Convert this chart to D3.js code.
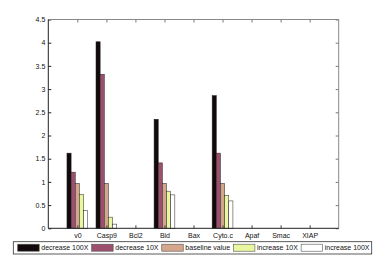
<!DOCTYPE html>
<html><head><meta charset="utf-8">
<script src="https://cdn.jsdelivr.net/npm/d3@7"></script>
<style>body{margin:0;background:#fff}svg{display:block}text{font-family:"Liberation Sans",Arial,Helvetica,sans-serif}</style>
</head><body>
<svg id="c" width="374" height="257"></svg>
<script>
const categories = ["v0","Casp9","Bcl2","Bid","Bax","Cyto.c","Apaf","Smac","XIAP"];
const seriesNames = ["decrease 100X","decrease 10X","baseline value","increase 10X","increase 100X"];
const dec100 = [1.62, 4.02, 0, 2.35, 0, 2.86, 0, 0, 0];
const dec10  = [1.21, 3.32, 0, 1.41, 0, 1.62, 0, 0, 0];
const base   = [0.97, 0.97, 0, 0.97, 0, 0.97, 0, 0, 0];
const inc10  = [0.73, 0.24, 0, 0.80, 0, 0.71, 0, 0, 0];
const inc100 = [0.38, 0.09, 0, 0.72, 0, 0.59, 0, 0, 0];
const yTicks = [0,0.5,1,1.5,2,2.5,3,3.5,4,4.5];
const colors = ["#120a0a","#9c4f6e","#d4a68c","#eaf7a0","#ffffff"];
const series = [dec100, dec10, base, inc10, inc100];

const svg = d3.select("#c");
const L = 48.3, R = 338.7, T = 19.5, B = 228.3;
const x = d3.scaleLinear().domain([0, categories.length + 1]).range([L, R]);
const y = d3.scaleLinear().domain([0, 4.5]).range([B, T]);
const slot = 0.143;

// bars
series.forEach((s, i) => {
  svg.append("g").selectAll("rect").data(s).join("rect")
    .attr("x", (d, j) => x(j + 1 + (i - 2) * slot - slot / 2))
    .attr("width", x(slot) - x(0))
    .attr("y", d => y(d))
    .attr("height", d => y(0) - y(d))
    .attr("fill", colors[i])
    .attr("stroke", "#222")
    .attr("stroke-width", 0.5)
    .style("display", d => d > 0 ? null : "none");
});

const tickIdx = categories.map((c, i) => i + 1);
const fs = "7px";
// axes
const gl = svg.append("g").attr("transform", `translate(${L},0)`)
  .call(d3.axisLeft(y).tickValues(yTicks).tickFormat(d3.format("")).tickSize(-3).tickPadding(3));
const gr = svg.append("g").attr("transform", `translate(${R},0)`)
  .call(d3.axisRight(y).tickValues(yTicks).tickFormat("").tickSize(-3));
const gb = svg.append("g").attr("transform", `translate(0,${B})`)
  .call(d3.axisBottom(x).tickValues(tickIdx).tickFormat((d) => categories[d - 1]).tickSize(-3).tickPadding(5));
const gt = svg.append("g").attr("transform", `translate(0,${T})`)
  .call(d3.axisTop(x).tickValues(tickIdx).tickFormat("").tickSize(-3));
[gl, gr, gb, gt].forEach(g => {
  g.selectAll("text").style("font-size", fs).attr("fill", "#111");
  g.selectAll(".domain").remove();
});
gl.selectAll("line").attr("stroke", "#222");
gb.selectAll("line").attr("stroke", "#444");
gr.selectAll("line").attr("stroke", "#777");
gt.selectAll("line").attr("stroke", "#777");
// box
svg.append("line").attr("x1", L).attr("x2", R).attr("y1", T).attr("y2", T).attr("stroke", "#888");
svg.append("line").attr("x1", R).attr("x2", R).attr("y1", T).attr("y2", B).attr("stroke", "#888");
svg.append("line").attr("x1", L).attr("x2", L).attr("y1", T).attr("y2", B).attr("stroke", "#222");
svg.append("line").attr("x1", L).attr("x2", R).attr("y1", B).attr("y2", B).attr("stroke", "#222");

// legend
const lg = svg.append("g");
const lgX = 13.3, lgW = 358.4;
lg.append("rect").attr("x", lgX).attr("y", 241.7).attr("width", lgW).attr("height", 12.3)
  .attr("fill", "#fff").attr("stroke", "#333").attr("stroke-width", 0.8);
const swW = 21.5, swGap = 2.1, start = 17.7, end = 369.5;
const texts = seriesNames.map(n => lg.append("text").attr("y", 250.3).text(n)
  .style("font-size", "7px").attr("fill", "#111"));
const widths = texts.map(t => t.node().getComputedTextLength());
const gap = (end - start - seriesNames.length * (swW + swGap) - d3.sum(widths)) / (seriesNames.length - 1);
let cx = start;
seriesNames.forEach((n, i) => {
  lg.insert("rect", "text").attr("x", cx).attr("y", 244.2).attr("width", swW).attr("height", 7)
    .attr("fill", colors[i]).attr("stroke", "#555").attr("stroke-width", 0.6);
  texts[i].attr("x", cx + swW + swGap);
  cx += swW + swGap + widths[i] + gap;
});
</script>
</body></html>
